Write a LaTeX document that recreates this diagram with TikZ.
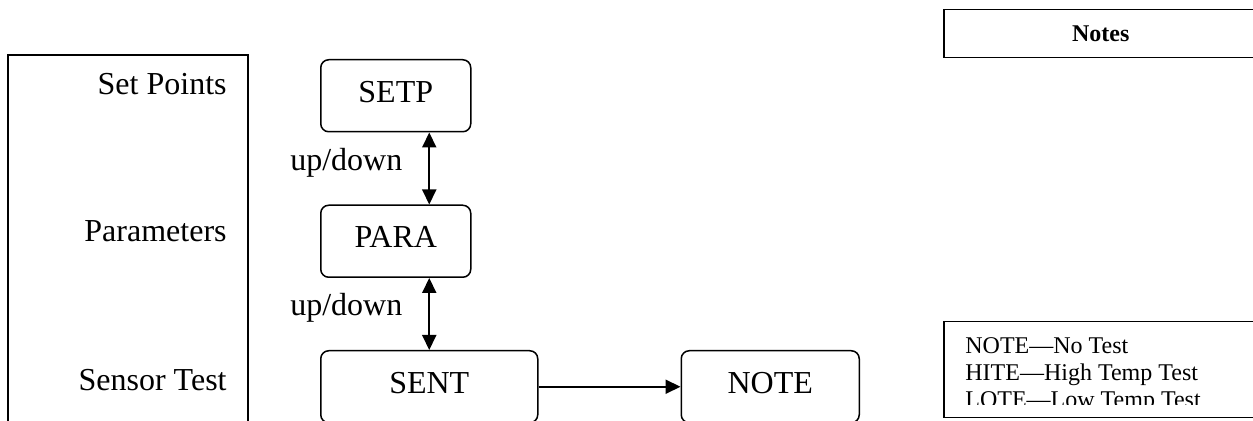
\documentclass[tikz,border=0pt]{standalone}
\usepackage{fontspec}
\setmainfont{Liberation Serif}
\usetikzlibrary{arrows.meta,positioning}

\begin{document}
\begin{tikzpicture}[x=0.5pt,y=-0.5pt,>={Triangle[length=7.5pt,width=7pt]},
 font=\fontsize{16}{19}\selectfont,
 state/.style={draw,line width=0.75pt,rounded corners=4pt,minimum height=36pt,text depth=4pt,anchor=north west},
 side/.style={inner sep=0pt,anchor=base east},
 lbl/.style={inner sep=0pt},
 code/.style={inner sep=0pt,anchor=base west,font=\fontsize{12}{13.5}\selectfont},
 notebox/.style={draw,line width=0.75pt,minimum width=157pt,anchor=north west},
 updown/.style={<->,line width=1pt}, flow/.style={->,line width=1pt}]
\clip (0,0) rectangle (1253,421);

% left column
\draw[line width=0.75pt] (8,440) -- (8,55) -- (248,55) -- (248,440);
\node[side] (lsetp) at (227,95) {Set Points};
\node[side] (lpara) at (227,242) {Parameters};
\node[side] (lsent) at (227,391) {Sensor Test};

% menu states
\node[state,minimum width=75pt] (setp) at (320,59) {SETP};
\node[state,minimum width=75pt,below=36pt of setp.south west,anchor=north west] (para) {PARA};
\node[state,minimum width=108.5pt,below=36pt of para.south west,anchor=north west] (sent) {SENT};
\node[state,minimum width=89pt,right=71pt of sent.north east,anchor=north west] (note) {NOTE};
\draw[updown] (setp.south -| sent.north) -- (para.north -| sent.north)
 node[lbl,pos=0.42,left=13pt] (ud1) {up/down};
\draw[updown] (para.south -| sent.north) -- (sent.north)
 node[lbl,pos=0.42,left=13pt] (ud2) {up/down};
\draw[flow] (sent) -- (note);

% notes
\node[notebox,minimum height=24pt,font=\bfseries\fontsize{12}{14}\selectfont] (notes) at (943,9) {Notes};
\node[notebox,minimum height=48pt] (legend) at (943,321) {};
\begin{scope}
\clip (943,321) rectangle (1257,405);
\node[code] (code1) at (965,354) {NOTE---No Test};
\node[code] (code2) at (965,381) {HITE---High Temp Test};
\node[code] (code3) at (965,408) {LOTE---Low Temp Test};
\end{scope}
\end{tikzpicture}
\end{document}
